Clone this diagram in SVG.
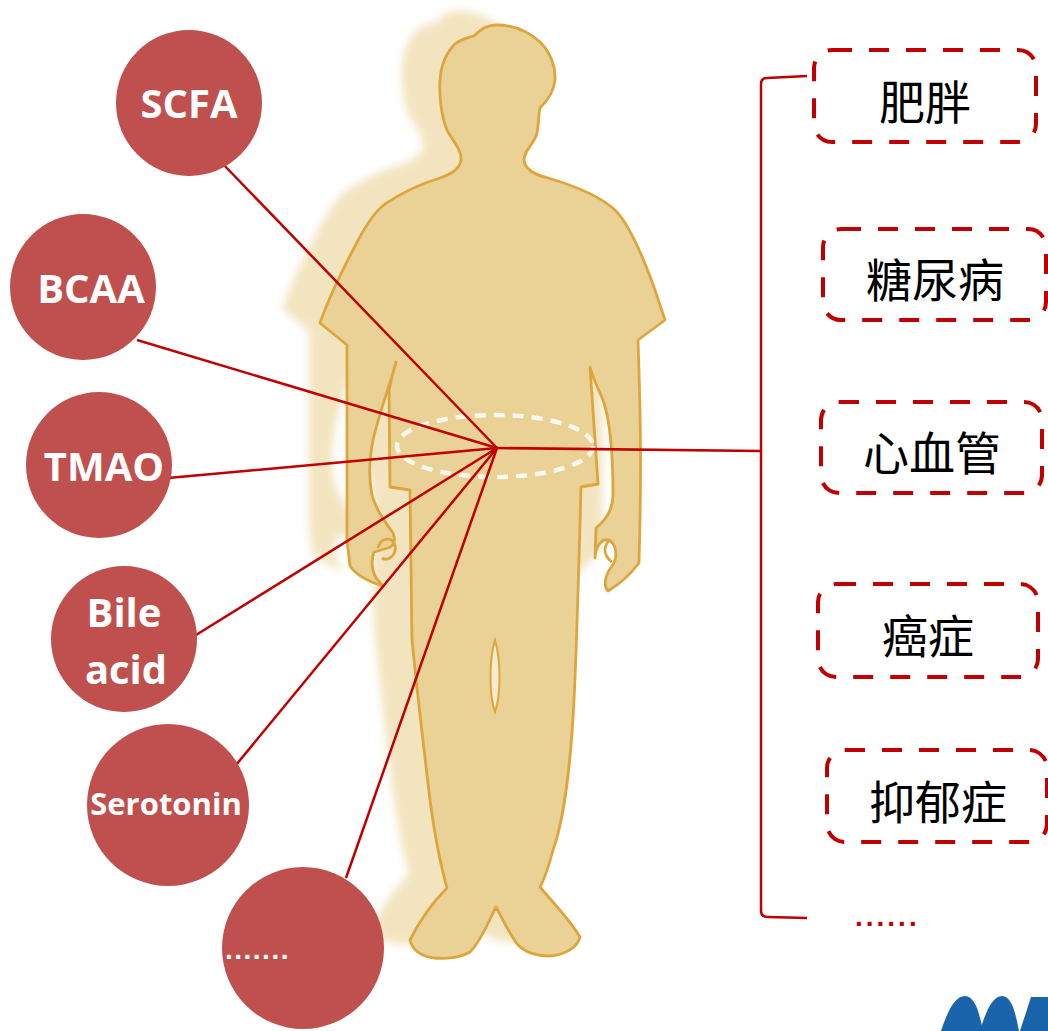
<svg xmlns="http://www.w3.org/2000/svg" xmlns:xlink="http://www.w3.org/1999/xlink" width="1048" height="1031" viewBox="0 0 1048 1031">
  <style>
    .metab { fill: #C0504D; }
    .metab-label { fill: #FFFFFF; font-family: "Open Sans", "Liberation Sans", sans-serif; font-weight: 700; text-anchor: middle; }
    .disease { fill: none; stroke: #C00000; stroke-width: 4; stroke-dasharray: 20 17; }
    .disease-label { fill: #000000; font-family: "Noto Sans CJK SC", "Noto Sans", sans-serif; font-size: 46px; text-anchor: middle; }
    .link { stroke: #C00000; stroke-width: 2.5; fill: none; }
    .body-line { fill: none; stroke: #DDA63C; stroke-width: 2.8; stroke-linejoin: round; }
  </style>
  <defs>
    <filter id="soft" x="-20%" y="-20%" width="140%" height="140%">
      <feGaussianBlur stdDeviation="4"/>
    </filter>
    <!-- standing figure outline, arms at the sides -->
    <path id="figure" d="M 497,25 C 515,25 530,33 540,42 C 550,52 556,66 555,80 C 554,92 547,101 540,108 C 538,118 539,128 536,136 C 532,146 524,151 524,160 C 525,170 535,175 548,178 C 575,186 600,196 615,210 C 630,225 645,262 655,290 L 665,320 L 638,340 C 640,400 642,460 639,563 C 630,575 618,585 608,591 C 603,586 605,575 612,566 C 618,558 617,545 609,540 C 601,538 595,548 595,558 L 596,528 C 606,520 613,510 613,495 C 613,450 610,420 603,400 C 598,388 592,376 590,367 C 592,400 595,440 598,484 L 581,487 C 579,560 577,640 574,700 C 571,760 564,820 553,850 C 549,865 545,878 540,887 C 555,905 570,920 580,937 C 578,947 565,955 550,956 C 535,956 525,952 518,945 C 510,935 502,918 496,907 C 490,918 482,940 470,952 C 460,958 445,959 435,958 C 422,957 412,950 410,940 C 420,920 435,900 447,888 C 442,870 436,845 430,800 C 424,750 418,700 412,640 L 410,490 L 390,487 L 389,390 C 391,380 393,372 396,362 C 390,385 380,410 373,440 C 369,460 369,480 372,495 C 376,510 385,522 393,533 C 396,540 394,546 388,548 L 374,552 C 371,560 372,570 376,578 L 383,586 C 370,582 356,575 350,566 L 347,540 L 347,345 L 320,323 C 328,300 340,275 352,252 C 362,232 372,214 385,204 C 400,194 420,184 440,178 C 452,174 460,168 461,160 C 462,150 452,140 447,130 C 441,115 439,95 440,80 C 441,65 447,52 455,44 C 462,38 468,38 474,36 C 482,28 488,25 497,25 Z"/>
  </defs>

  <!-- figure -->
  <g id="figure-art">
    <use xlink:href="#figure" href="#figure" transform="translate(-38,-14)" fill="#F3E4C0" filter="url(#soft)"/>
    <use xlink:href="#figure" href="#figure" fill="#EAD296" stroke="#DDA63C" stroke-width="2.8" stroke-linejoin="round"/>
    <!-- thumb curls -->
    <path class="body-line" d="M 378,548 C 380,538 392,536 395,545 C 397,555 388,562 382,558"/>
    <path class="body-line" d="M 609,540 C 603,548 604,556 612,562"/>
    <!-- gap between the legs -->
    <path d="M 495,640 C 489,660 489,695 495,712 C 501,695 501,660 495,640 Z" fill="#F6EBD0" stroke="#DDA63C" stroke-width="2"/>
    <!-- waist -->
    <ellipse cx="495" cy="446" rx="98" ry="31" fill="none" stroke="#FFFFFF" stroke-opacity="0.85" stroke-width="4.5" stroke-dasharray="11 8"/>
  </g>

  <!-- connectors -->
  <g id="connectors">
    <line class="link" x1="497" y1="448" x2="222" y2="163"/>
    <line class="link" x1="497" y1="448" x2="137" y2="340"/>
    <line class="link" x1="497" y1="448" x2="168" y2="478"/>
    <line class="link" x1="497" y1="448" x2="196" y2="635"/>
    <line class="link" x1="497" y1="448" x2="236" y2="765"/>
    <line class="link" x1="497" y1="448" x2="346" y2="878"/>
    <line class="link" x1="497" y1="448" x2="761" y2="451"/>
    <path class="link" d="M 807,76 L 767,78 Q 761,78 761,84 L 761,911 Q 761,917 768,917 L 807,918"/>
  </g>

  <!-- metabolites -->
  <g id="node-scfa">
    <circle class="metab" cx="189" cy="103" r="73"/>
    <text class="metab-label" x="189" y="118" font-size="40">SCFA</text>
  </g>
  <g id="node-bcaa">
    <circle class="metab" cx="83" cy="287" r="73"/>
    <text class="metab-label" x="91" y="303" font-size="40">BCAA</text>
  </g>
  <g id="node-tmao">
    <circle class="metab" cx="99" cy="465" r="73"/>
    <text class="metab-label" x="104" y="481" font-size="40">TMAO</text>
  </g>
  <g id="node-bile-acid">
    <circle class="metab" cx="124" cy="639" r="73"/>
    <text class="metab-label" x="124" y="627" font-size="40">Bile</text>
    <text class="metab-label" x="126" y="684" font-size="40">acid</text>
  </g>
  <g id="node-serotonin">
    <circle class="metab" cx="168" cy="805" r="81"/>
    <text class="metab-label" x="166" y="815" font-size="31">Serotonin</text>
  </g>
  <g id="node-more">
    <circle class="metab" cx="303" cy="948" r="81"/>
    <text x="225" y="959" fill="#FFFFFF" font-family="Liberation Sans, sans-serif" font-weight="700" font-size="28" letter-spacing="1.5">.......</text>
  </g>

  <!-- diseases -->
  <g id="node-obesity">
    <rect class="disease" x="814" y="50" width="222" height="92" rx="18"/>
    <text class="disease-label" x="925" y="119">肥胖</text>
  </g>
  <g id="node-diabetes">
    <rect class="disease" x="823" y="229" width="223" height="91" rx="18"/>
    <text class="disease-label" x="935" y="297">糖尿病</text>
  </g>
  <g id="node-cardiovascular">
    <rect class="disease" x="821" y="402" width="221" height="91" rx="18"/>
    <text class="disease-label" x="932" y="470">心血管</text>
  </g>
  <g id="node-cancer">
    <rect class="disease" x="818" y="584" width="220" height="93" rx="18"/>
    <text class="disease-label" x="928" y="653">癌症</text>
  </g>
  <g id="node-depression">
    <rect class="disease" x="827" y="750" width="220" height="92" rx="18"/>
    <text class="disease-label" x="938" y="819">抑郁症</text>
  </g>
  <g id="node-more-diseases">
    <text x="855" y="926" fill="#C00000" font-family="Liberation Sans, sans-serif" font-weight="700" font-size="28" letter-spacing="3">......</text>
  </g>

  <!-- corner mark -->
  <g id="corner-mark" fill="#1A64AC">
    <path d="M 941,1031 C 948,1010 955,996 965,996 C 974,996 979,1010 983,1031 Z"/>
    <path d="M 980,1031 C 986,1010 993,996 1002,996 C 1011,996 1015,1010 1019,1031 Z"/>
    <path d="M 1020,1031 L 1031,997 L 1048,997 L 1048,1031 Z"/>
  </g>
</svg>
